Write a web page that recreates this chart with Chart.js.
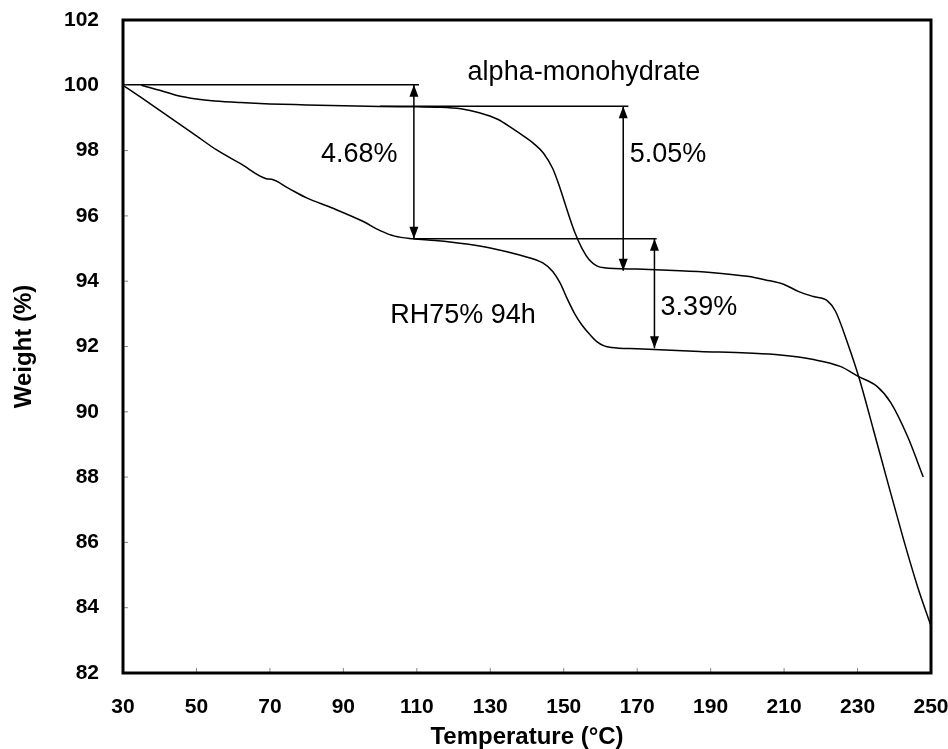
<!DOCTYPE html>
<html>
<head>
<meta charset="utf-8">
<script src="https://cdn.jsdelivr.net/npm/chart.js@4"></script>
<style>
	body { margin:0; background:#fff; }
	#c { display:block; }
</style>
</head>
<body>
<canvas id="c" width="948" height="749"></canvas>
<script>
// alpha-monohydrate (temperature, weight)
const alphaT = [35, 40, 45, 50, 55, 62, 70, 80, 90, 100, 110, 116, 122, 127, 132, 136, 139, 142, 144.5, 147, 149, 151, 153, 155, 157, 159, 161, 170, 180, 190, 200, 205, 210, 214, 218, 221.8, 224, 227.3, 230.3, 234.3, 238, 242.5, 246.3, 250]
const alphaW = [100.0, 99.85, 99.68, 99.58, 99.52, 99.47, 99.43, 99.40, 99.37, 99.35, 99.34, 99.33, 99.28, 99.16, 98.96, 98.68, 98.45, 98.2, 97.92, 97.45, 96.85, 96.15, 95.5, 95.0, 94.65, 94.47, 94.41, 94.37, 94.33, 94.27, 94.15, 94.04, 93.9, 93.68, 93.53, 93.4, 93.08, 92.1, 91.08, 89.46, 87.93, 86.1, 84.66, 83.44]

// RH75% 94h
const rhT = [30, 35, 40, 45, 50, 55.5, 62, 69, 70.5, 75, 80, 87, 95, 100, 104, 109, 115, 123.6, 130, 138, 144.3, 147, 149, 151, 153, 155, 157, 159, 161, 163, 170, 187, 200, 209, 218, 225.3, 230.3, 235.3, 239, 243.6, 247.9]
const rhW = [100.0, 99.62, 99.23, 98.84, 98.45, 98.02, 97.6, 97.14, 97.12, 96.85, 96.55, 96.24, 95.85, 95.55, 95.38, 95.3, 95.25, 95.14, 95.02, 94.8, 94.56, 94.3, 93.95, 93.45, 93.0, 92.65, 92.38, 92.15, 92.02, 91.97, 91.93, 91.85, 91.8, 91.74, 91.6, 91.39, 91.08, 90.78, 90.29, 89.25, 88.0]

const xTicks = [30, 50, 70, 90, 110, 130, 150, 170, 190, 210, 230, 250]
const yTicks = [82, 84, 86, 88, 90, 92, 94, 96, 98, 100, 102]

// guide lines [x1, x2, y]
const hGaris = [[30, 110.6, 100.02], [100, 167.6, 99.36], [109, 175.3, 95.3]]
// double arrows [x, yTop, yBottom]
const panah = [[109.2, 100.02, 95.3], [166.2, 99.36, 94.32], [174.7, 95.3, 91.95]]
// labels [text, x, y]
const teks = [
	['alpha-monohydrate', 155.5, 100.38],
	['4.68%', 94.3, 97.87],
	['5.05%', 178.4, 97.87],
	['RH75% 94h', 122.6, 92.95],
	['3.39%', 186.8, 93.2],
]

const garis = (data, halus) => ({ data, borderColor:'#000', borderWidth:1.5, pointRadius:0, fill:false, tension:0, cubicInterpolationMode: halus ? 'monotone' : 'default' })

const hiasan = {
	id:'hiasan',
	afterDatasetsDraw: c => {
		const {ctx, chartArea:a, scales:{x, y}} = c
		ctx.save()
		// inner ticks
		ctx.strokeStyle = '#888'
		ctx.lineWidth = 1
		xTicks.forEach(v => { const p = x.getPixelForValue(v); ctx.beginPath(); ctx.moveTo(p, a.bottom); ctx.lineTo(p, a.bottom-5); ctx.stroke() })
		yTicks.forEach(v => { const p = y.getPixelForValue(v); ctx.beginPath(); ctx.moveTo(a.left, p); ctx.lineTo(a.left+5, p); ctx.stroke() })
		// arrow heads
		ctx.fillStyle = '#000'
		panah.forEach(([px, y1, y2]) => {
			const X = x.getPixelForValue(px), A = y.getPixelForValue(y1), B = y.getPixelForValue(y2)
			ctx.beginPath(); ctx.moveTo(X, A); ctx.lineTo(X-4.5, A+12); ctx.lineTo(X+4.5, A+12); ctx.closePath(); ctx.fill()
			ctx.beginPath(); ctx.moveTo(X, B); ctx.lineTo(X-4.5, B-12); ctx.lineTo(X+4.5, B-12); ctx.closePath(); ctx.fill()
		})
		// text
		ctx.font = '27px "Liberation Sans", Arial, sans-serif'
		ctx.textAlign = 'center'
		ctx.textBaseline = 'middle'
		teks.forEach(([t, px, py]) => ctx.fillText(t, x.getPixelForValue(px), y.getPixelForValue(py)))
		// frame
		ctx.lineWidth = 3
		ctx.strokeStyle = '#000'
		ctx.strokeRect(a.left, a.top, a.right-a.left, a.bottom-a.top)
		ctx.restore()
	}
}

const datasets = [
	garis(alphaT.map((t,i) => ({x:t, y:alphaW[i]})), true),
	garis(rhT.map((t,i) => ({x:t, y:rhW[i]})), true),
	...hGaris.map(([a,b,v]) => garis([{x:a, y:v}, {x:b, y:v}])),
	...panah.map(([p,a,b]) => garis([{x:p, y:a}, {x:p, y:b}])),
]

const huruf = '"Liberation Sans", Arial, sans-serif'

new Chart(document.getElementById('c'), {
	type:'line',
	data:{ datasets },
	plugins:[hiasan],
	options:{
		responsive:false,
		animation:false,
		layout:{ padding:{ top:20, right:17, left:0, bottom:0 } },
		plugins:{ legend:{ display:false }, tooltip:{ enabled:false } },
		scales:{
			x:{
				type:'linear', min:30, max:250,
				afterFit: s => { s.height = 76; s.paddingLeft = 0; s.paddingRight = 0 },
				grid:{ display:false }, border:{ display:false },
				afterBuildTicks: s => { s.ticks = xTicks.map(v => ({value:v})) },
				ticks:{ color:'#000', padding:14, font:{ family:huruf, size:21, weight:'bold' } },
				title:{ display:true, text:'Temperature (°C)', color:'#000', padding:0, font:{ family:huruf, size:24, weight:'bold', lineHeight:1 } },
			},
			y:{
				min:82, max:102,
				afterFit: s => { s.width = 123; s.paddingTop = 0; s.paddingBottom = 0 },
				grid:{ display:false }, border:{ display:false },
				afterBuildTicks: s => { s.ticks = yTicks.map(v => ({value:v})) },
				ticks:{ color:'#000', padding:16, font:{ family:huruf, size:21, weight:'bold' } },
				title:{ display:true, text:'Weight (%)', color:'#000', padding:{ top:10, bottom:0 }, font:{ family:huruf, size:24, weight:'bold', lineHeight:1.2 } },
			},
		},
	},
})
</script>
</body>
</html>
